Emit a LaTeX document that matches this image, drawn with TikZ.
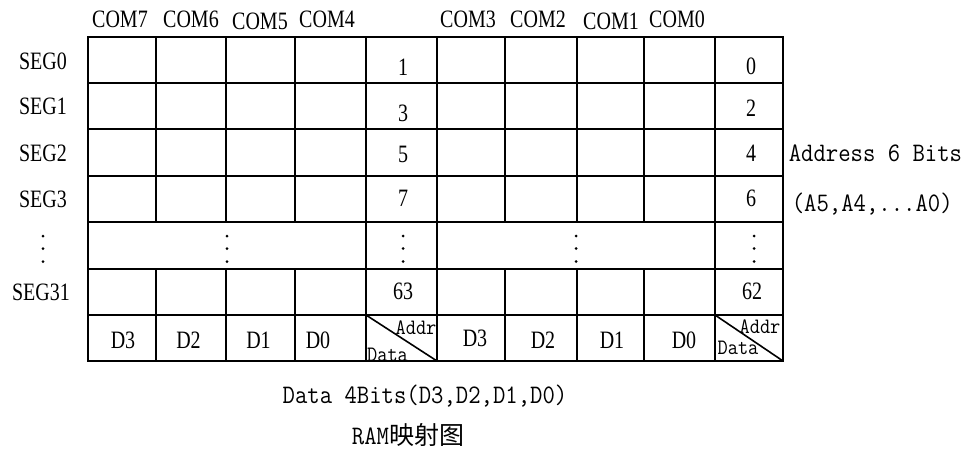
\documentclass[tikz,border=0pt]{standalone}
\usepackage{fontspec}
\setmainfont[FakeStretch=0.8]{Liberation Serif}
\newfontfamily\monof[FakeStretch=0.9]{Latin Modern Mono}
\newfontfamily\cjkf{Noto Sans CJK SC}
\begin{document}
\begin{tikzpicture}[x=1pt,y=-1pt,line width=1.6pt,
  lbl/.style={inner sep=0pt,font=\fontsize{25}{28}\selectfont},
  mono/.style={inner sep=0pt,font=\monof\fontsize{26.7}{30}\selectfont},
  tiny/.style={inner sep=0pt,font=\monof\fontsize{22}{26}\selectfont},
  dotm/.style={fill=black,radius=1.5pt}]
\useasboundingbox (0,0) rectangle (969,450);
% grid
\draw (88,37) rectangle (783,361);
\foreach \yy in {83,129,176,222,269,315} \draw (88,\yy) -- (783,\yy);
\foreach \xx in {366,437,715} \draw (\xx,37) -- (\xx,361);
\foreach \xx in {156,226,295,505,577,644} {\draw (\xx,37) -- (\xx,222); \draw (\xx,269) -- (\xx,361);}
% diagonals
\draw (366,315) -- (437,361);
\draw (715,315) -- (783,361);
% COM labels
\node[lbl] (c7) at (120,19) {COM7};
\node[lbl] (c6) at (191,19) {COM6};
\node[lbl] (c5) at (260,21.5) {COM5};
\node[lbl] (c4) at (327,19) {COM4};
\node[lbl] (c3) at (468,19) {COM3};
\node[lbl] (c2) at (538,19) {COM2};
\node[lbl] (c1) at (611,21.5) {COM1};
\node[lbl] (c0) at (677,19) {COM0};
% SEG labels
\node[lbl] (s0) at (43,61.5) {SEG0};
\node[lbl] (s1) at (43,106.5) {SEG1};
\node[lbl] (s2) at (43,153.5) {SEG2};
\node[lbl] (s3) at (43,199) {SEG3};
\node[lbl] (s31) at (41,292) {SEG31};
% numbers
\node[lbl] (n1) at (403,67) {1};
\node[lbl] (n3) at (403,113.5) {3};
\node[lbl] (n5) at (403,154) {5};
\node[lbl] (n7) at (403,198.5) {7};
\node[lbl] (n63) at (403,291) {63};
\node[lbl] (n0) at (751,66) {0};
\node[lbl] (n2) at (751,108) {2};
\node[lbl] (n4) at (751,153.5) {4};
\node[lbl] (n6) at (751,198.5) {6};
\node[lbl] (n62) at (752,291) {62};
% vertical dots
\foreach \xx in {43,227,403,576,754} {
  \fill[dotm] (\xx,236) circle;
  \fill[dotm] (\xx,248.5) circle;
  \fill[dotm] (\xx,261.5) circle;}
% D row
\node[lbl] (da3) at (123,340) {D3};
\node[lbl] (da2) at (188.5,340) {D2};
\node[lbl] (da1) at (258.5,340) {D1};
\node[lbl] (da0) at (318,340) {D0};
\node[lbl] (db3) at (475,338) {D3};
\node[lbl] (db2) at (543,340) {D2};
\node[lbl] (db1) at (612,340) {D1};
\node[lbl] (db0) at (684,340) {D0};
\node[tiny] (addra) at (416,328) {Addr};
\node[tiny] (dataa) at (387.5,355) {Data};
\node[tiny] (addrb) at (760,327) {Addr};
\node[tiny] (datab) at (738,348) {Data};
% side and bottom texts
\node[mono,anchor=west] (addr) at (788,153.5) {Address 6 Bits};
\node[mono,anchor=west] (abits) at (791,204) {(A5,A4,...A0)};
\node[mono] (dbits) at (425,396) {Data 4Bits(D3,D2,D1,D0)};
\node[inner sep=0pt] (title) at (408,435) {{\monof\fontsize{26.7}{30}\selectfont RAM}{\cjkf\fontsize{25}{30}\selectfont 映射图}};
\end{tikzpicture}
\end{document}
